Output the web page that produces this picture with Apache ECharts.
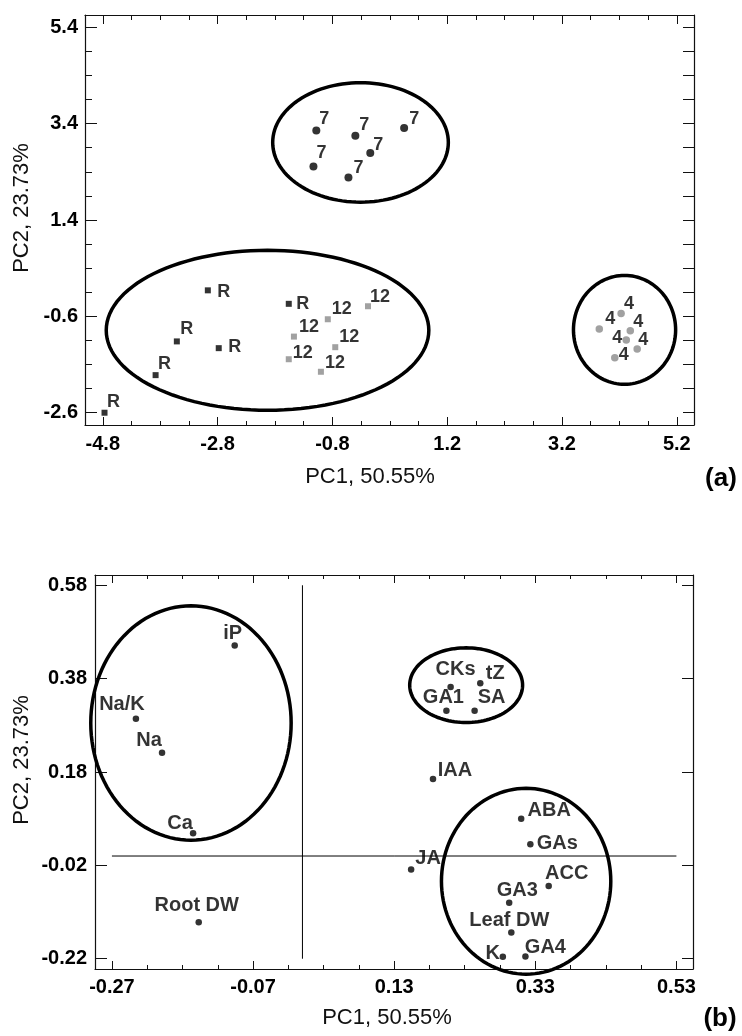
<!DOCTYPE html>
<html>
<head>
<meta charset="utf-8">
<title>PCA scores and loadings</title>
<script src="https://cdn.jsdelivr.net/npm/echarts@6/dist/echarts.min.js"></script>
<style>
  html, body { margin: 0; padding: 0; background: #fff; }
  #chart { width: 742px; height: 1036px; }
</style>
</head>
<body>
<div id="chart"></div>
<script>
// ---------- panel (a): sample scores ----------
const rX = [-4.77, -3.88, -3.51, -2.78, -2.97, -1.56];
const rY = [-2.60, -1.82, -1.12, -1.26, -0.06, -0.34];
const twelveX = [-0.18, -0.88, -1.47, -0.75, -1.56, -1.00];
const twelveY = [-0.39, -0.66, -1.02, -1.24, -1.49, -1.75];
const sevenX = [-1.08, -0.40, 0.45, -0.14, -1.13, -0.52];
const sevenY = [3.26, 3.15, 3.31, 2.79, 2.51, 2.28];
const fourX = [4.23, 3.85, 4.39, 4.32, 4.51, 4.12];
const fourY = [-0.54, -0.86, -0.90, -1.09, -1.28, -1.46];

// group ellipses (centre and half-axes, data units)
const scoreEllCx = [-0.31, -1.93, 4.29];
const scoreEllCy = [3.01, -0.89, -0.88];
const scoreEllRx = [1.53, 2.81, 0.89];
const scoreEllRy = [1.24, 1.66, 1.13];

const aXTicks = [-4.8, -2.8, -0.8, 1.2, 3.2, 5.2];
const aYTicks = [-2.6, -0.6, 1.4, 3.4, 5.4];

// ---------- panel (b): variable loadings ----------
const loadNames = ['iP', 'Na/K', 'Na', 'Ca', 'Root DW', 'CKs', 'tZ', 'GA1', 'SA', 'IAA',
                   'ABA', 'GAs', 'JA', 'ACC', 'GA3', 'Leaf DW', 'K', 'GA4'];
const loadX = [-0.096, -0.236, -0.199, -0.155, -0.147, 0.210, 0.252, 0.204, 0.244, 0.185,
               0.310, 0.323, 0.154, 0.349, 0.293, 0.296, 0.284, 0.316];
const loadY = [0.451, 0.294, 0.221, 0.049, -0.142, 0.362, 0.370, 0.311, 0.311, 0.165,
               0.080, 0.025, -0.029, -0.064, -0.100, -0.164, -0.216, -0.215];

const loadEllCx = [-0.158, 0.232, 0.317];
const loadEllCy = [0.285, 0.366, -0.054];
const loadEllRx = [0.142, 0.080, 0.120];
const loadEllRy = [0.251, 0.080, 0.199];

const bXTicks = [-0.27, -0.07, 0.13, 0.33, 0.53];
const bYTicks = [-0.22, -0.02, 0.18, 0.38, 0.58];

// label placement (pixel shift of each label centre from its point)
const rShift = [[9, -11], [9, -11], [10, -12], [16, -1], [16, 2], [14, 0]];
const twelveShift = [[12, -9], [14, -10], [15, -10], [14, -10], [14, -6], [14, -9]];
const sevenShift = [[8, -11], [9, -11], [10, -9], [8, -8], [8, -13], [10, -10]];
const fourShift = [[8, -9], [11, -10], [8, -9], [-9, -2], [6, -9], [9, -3]];
const loadShift = [[-2, -12], [-14, -14], [-13, -12], [-13, -10], [-2, -17], [5, -18], [15, -10],
                   [-3, -13], [17, -13], [22, -9], [28, -8], [27, -1], [17, -11], [18, -12],
                   [8, -12], [-2, -12], [-10, -3], [20, -9]];

const FONT = "'Liberation Sans', Arial, sans-serif";
const INK = '#111';

function steps(from, to, step) {
  const out = [];
  for (let v = from; v <= to + 1e-9; v += step) out.push(Math.round(v * 1000) / 1000);
  return out;
}

const xAxes = [];
const yAxes = [];

// box frame: labelled axis + minor ticks + mirrored axis on the other side
function frame(list, dim, grid, min, max, ticks, minors, dec, len, margin) {
  const first = list.length;
  const lineStyle = { color: INK, width: 1.2 };
  const tickStyle = { color: INK, width: 1 };
  const sides = dim === 'x' ? ['bottom', 'top'] : ['left', 'right'];
  const base = {
    gridIndex: grid, type: 'value', min: min, max: max,
    splitLine: { show: false },
    axisLine: { show: false, onZero: false },
    axisLabel: { show: false },
    axisTick: { show: false }
  };
  list.push(Object.assign({}, base, {
    position: sides[0],
    axisLine: { show: true, onZero: false, lineStyle: lineStyle },
    axisTick: { show: true, inside: true, length: len[0], customValues: ticks, lineStyle: tickStyle },
    axisLabel: {
      show: true, customValues: ticks, margin: margin,
      formatter: v => v.toFixed(dec),
      color: '#000', fontFamily: FONT, fontWeight: 'bold', fontSize: 20
    }
  }));
  if (minors.length) {
    list.push(Object.assign({}, base, {
      position: sides[0],
      axisTick: { show: true, inside: true, length: len[1], customValues: minors, lineStyle: tickStyle }
    }));
  }
  list.push(Object.assign({}, base, {
    position: sides[1],
    axisLine: { show: true, onZero: false, lineStyle: lineStyle },
    axisTick: { show: true, inside: true, length: len[2], customValues: ticks, lineStyle: tickStyle }
  }));
  if (minors.length) {
    list.push(Object.assign({}, base, {
      position: sides[1],
      axisTick: { show: true, inside: true, length: len[3], customValues: minors, lineStyle: tickStyle }
    }));
  }
  return first;
}

const ax = frame(xAxes, 'x', 0, -5.11, 5.5, aXTicks, steps(-4.8, 5.2, 0.5), 1, [8, 4, 9, 5], 9);
const ay = frame(yAxes, 'y', 0, -2.855, 5.655, aYTicks, steps(-2.6, 5.4, 0.5), 1, [12, 7, 11, 11], 7);
const bx = frame(xAxes, 'x', 1, -0.294, 0.5535, bXTicks, steps(-0.27, 0.53, 0.05), 2, [8, 4, 8, 4], 8);
const by = frame(yAxes, 'y', 1, -0.242, 0.602, bYTicks, [], 2, [12, 0, 11, 0], 8);

function pointLabel(shift, size) {
  return {
    show: true, position: 'inside', offset: shift,
    color: '#000', fontFamily: FONT, fontWeight: 'bold', fontSize: size
  };
}

function scoreSeries(name, xs, ys, shifts, symbol, size, color) {
  return {
    name: name, type: 'scatter', xAxisIndex: ax, yAxisIndex: ay,
    symbol: symbol, symbolSize: size,
    itemStyle: { color: color },
    label: { show: true, formatter: name },
    emphasis: { disabled: true },
    data: xs.map((x, i) => ({ value: [x, ys[i]], label: pointLabel(shifts[i], 18) })),
    z: 5
  };
}

function ellipseSeries(xi, yi, cx, cy, rx, ry) {
  return {
    type: 'custom', xAxisIndex: xi, yAxisIndex: yi, silent: true, clip: false,
    data: cx.map((c, i) => [c, cy[i], rx[i], ry[i]]),
    renderItem: function (params, api) {
      const c = api.coord([api.value(0), api.value(1)]);
      const s = api.size([api.value(2), api.value(3)]);
      const pts = [];
      for (let k = 0; k < 120; k++) {
        const t = k / 120 * Math.PI * 2;
        pts.push([c[0] + s[0] * Math.cos(t), c[1] + s[1] * Math.sin(t)]);
      }
      return {
        type: 'polygon', shape: { points: pts },
        style: { fill: null, stroke: '#000', lineWidth: 3.5 }
      };
    },
    z: 3
  };
}

function refLine(points) {
  return {
    type: 'line', xAxisIndex: bx, yAxisIndex: by, symbol: 'none', silent: true,
    lineStyle: { color: '#000', width: 1 },
    data: points, z: 2
  };
}

const chart = echarts.init(document.getElementById('chart'));

const titleFont = '22px ' + FONT;

chart.setOption({
  animation: false,
  backgroundColor: '#fff',
  grid: [
    { left: 85, top: 15, width: 609, height: 410 },
    { left: 95, top: 575, width: 598, height: 394 }
  ],
  xAxis: xAxes,
  yAxis: yAxes,
  graphic: [
    { type: 'text', x: 370, y: 477, style: { text: 'PC1, 50.55%', fill: INK, font: titleFont, align: 'center', verticalAlign: 'middle' } },
    { type: 'text', x: 22, y: 208, rotation: Math.PI / 2, style: { text: 'PC2, 23.73%', fill: INK, font: titleFont, align: 'center', verticalAlign: 'middle' } },
    { type: 'text', x: 721, y: 479, style: { text: '(a)', fill: '#000', font: 'bold 26px ' + FONT, align: 'center', verticalAlign: 'middle' } },
    { type: 'text', x: 387, y: 1018, style: { text: 'PC1, 50.55%', fill: INK, font: titleFont, align: 'center', verticalAlign: 'middle' } },
    { type: 'text', x: 22, y: 760, rotation: Math.PI / 2, style: { text: 'PC2, 23.73%', fill: INK, font: titleFont, align: 'center', verticalAlign: 'middle' } },
    { type: 'text', x: 720, y: 1019, style: { text: '(b)', fill: '#000', font: 'bold 26px ' + FONT, align: 'center', verticalAlign: 'middle' } }
  ],
  series: [
    ellipseSeries(ax, ay, scoreEllCx, scoreEllCy, scoreEllRx, scoreEllRy),
    scoreSeries('R', rX, rY, rShift, 'rect', 6, '#000'),
    scoreSeries('12', twelveX, twelveY, twelveShift, 'rect', 6, '#8a8a8a'),
    scoreSeries('7', sevenX, sevenY, sevenShift, 'circle', 8, '#000'),
    scoreSeries('4', fourX, fourY, fourShift, 'circle', 7.5, '#8a8a8a'),

    refLine([[0, bYTicks[0]], [0, bYTicks[bYTicks.length - 1]]]),
    refLine([[bXTicks[0], 0], [bXTicks[bXTicks.length - 1], 0]]),
    ellipseSeries(bx, by, loadEllCx, loadEllCy, loadEllRx, loadEllRy),
    {
      name: 'loadings', type: 'scatter', xAxisIndex: bx, yAxisIndex: by,
      symbol: 'circle', symbolSize: 6.5,
      itemStyle: { color: '#000' },
      label: { show: true, formatter: '{b}' },
      emphasis: { disabled: true },
      data: loadNames.map((n, i) => ({ name: n, value: [loadX[i], loadY[i]], label: pointLabel(loadShift[i], 20) })),
      z: 5
    }
  ]
});
</script>
</body>
</html>
